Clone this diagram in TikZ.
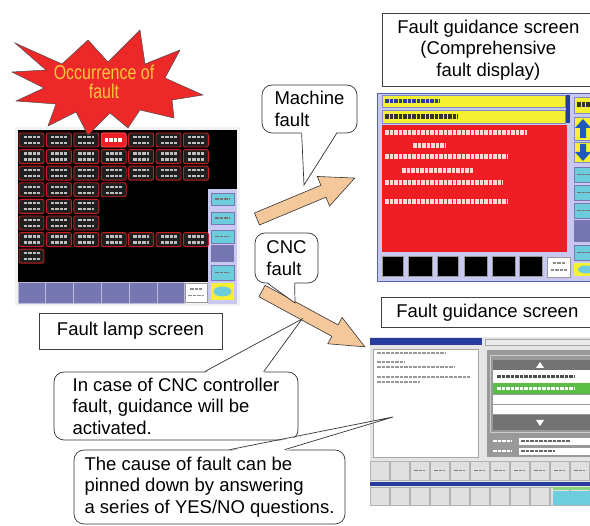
\documentclass[tikz,border=0pt]{standalone}
\usepackage{fontspec}
\setmainfont{Liberation Sans}
\usetikzlibrary{calc}

\definecolor{starred}{RGB}{236,40,40}
\definecolor{startext}{RGB}{250,200,60}
\definecolor{arrowtan}{RGB}{245,200,155}
\definecolor{lampred}{RGB}{200,30,30}
\definecolor{keypurple}{RGB}{118,118,178}
\definecolor{keycyan}{RGB}{110,205,220}
\definecolor{panelblue}{RGB}{200,200,240}
\definecolor{guideyellow}{RGB}{245,240,50}
\definecolor{guidered}{RGB}{238,30,36}
\definecolor{barblue}{RGB}{40,60,160}
\definecolor{arrowblue}{RGB}{30,90,190}
\definecolor{rowgreen}{RGB}{90,190,70}

\tikzset{
  lamp/.style={draw=lampred, line width=0.9pt, fill=black!88, rounded corners=2pt,
    minimum width=25pt, minimum height=14pt, inner sep=0pt},
  glyphs/.style={line width=#1, dash pattern=on 3.5pt off 1pt},
  glyphs/.default=4pt,
  labelbox/.style={draw=black!75, line width=0.7pt, fill=white, inner sep=0pt,
    align=center, font=\fontsize{18.5}{21.5}\selectfont},
  callout/.style={draw=black!80, line width=0.7pt, fill=white, rounded corners=10pt,
    inner sep=0pt, align=left, font=\fontsize{18.5}{21.5}\selectfont},
  tail/.style={draw=black!80, line width=0.7pt, line join=miter},
  fatarrow/.style={draw=black!80, line width=0.6pt, fill=arrowtan},
}

\begin{document}
\begin{tikzpicture}[x=1pt, y=-1pt]
\useasboundingbox (0,0) rectangle (590,526);

% ---------- fault lamp screen ----------
\fill[black!5] (15,127) rectangle (240,306);
\fill[black] (18,130) rectangle (237,282);
\foreach \i in {0,...,5}
  \draw[fill=keypurple, draw=keypurple!50!white, line width=0.8pt] ({18+27.8*\i},282) rectangle ++(27.8,21);
\node[draw=black!40, fill=white, minimum width=22pt, minimum height=19pt, inner sep=0pt] (lampreset) at (196,292.5) {};
\draw[glyphs=1.8pt, black!45] ($(lampreset.center)+(-6,-3.5)$) -- ++(12,0);
\draw[glyphs=1.8pt, black!45] ($(lampreset.center)+(-8,3)$) -- ++(16,0);
\fill[panelblue] (208,189) rectangle (237,304);
\foreach \ya/\yb in {193/205,212/224,230/243,265/280}{
  \draw[fill=keycyan, draw=keypurple] (211,\ya) rectangle (234,\yb);
  \draw[glyphs=1.5pt, black!55] (215,{(\ya+\yb)/2}) -- (230,{(\ya+\yb)/2});
}
\fill[keypurple] (211,245) rectangle (234,262);
\fill[guideyellow] (211,283) rectangle (234,300);
\fill[keycyan] (222.5,291.5) ellipse (9pt and 5pt);

% lamp buttons, row by row
\foreach \n [count=\r from 0] in {7,7,7,4,3,3,7,1}
  \foreach \c in {1,...,\n}{
    \node[lamp] (lamp-\r-\c) at ({31.5+27.4*(\c-1)},{140+16.6*\r}) {};
    \draw[glyphs=2.2pt, black!25] ($(lamp-\r-\c.center)+(-8,-3)$) -- ++(16,0);
    \draw[glyphs=2.2pt, black!25] ($(lamp-\r-\c.center)+(-8,3)$) -- ++(16,0);
  }
\node[lamp, fill=guidered, draw=guidered!80!white] (lampon) at (lamp-0-4) {};
\draw[glyphs=4pt, white] ($(lampon.center)+(-9,0)$) -- ++(18,0);

% ---------- comprehensive guidance screen ----------
\draw[fill=panelblue, draw=barblue!80, line width=0.8pt] (377,93) rectangle (595,281);
\draw[fill=guideyellow, draw=barblue!60] (382,95) rectangle (565,107);
\draw[fill=guideyellow, draw=barblue!60] (382,110) rectangle (565,123);
\fill[barblue] (566,95) rectangle (570,123);
\draw[glyphs=4pt, barblue] (385,101) -- (440,101);
\draw[glyphs=4.5pt, black!80] (385,116.5) -- (458,116.5);
\fill[guidered] (382,125) rectangle (567,252);
\foreach \xa/\xb/\yy in {385/527/133, 413/445/146, 385/507/157, 402/473/171, 385/503/183, 385/508/202}
  \draw[glyphs=5pt, white!85!red] (\xa,\yy) -- (\xb,\yy);
\foreach \xa/\xb in {382/403, 408/432, 437/458, 464/487, 492/515, 519/542}
  \draw[fill=black, draw=black!40, line width=1pt] (\xa,257) rectangle (\xb,277);
\node[draw=black!40, fill=white, minimum width=23pt, minimum height=20pt, inner sep=0pt] (guidereset) at (558.5,267) {};
\draw[glyphs=1.8pt, black!45] ($(guidereset.center)+(-6,-4)$) -- ++(12,0);
\draw[glyphs=1.8pt, black!45] ($(guidereset.center)+(-8,3)$) -- ++(16,0);
% side keys
\draw[fill=guideyellow, draw=barblue!60] (574,97) rectangle (592,113);
\draw[glyphs=5pt, black!80] (577,105) -- (592,105);
\draw[fill=guideyellow, draw=barblue!60] (574,117) rectangle (592,140);
\fill[arrowblue] (583,119) -- (591,128) -- (586,128) -- (586,138) -- (580,138) -- (580,128) -- (575,128) -- cycle;
\draw[fill=guideyellow, draw=barblue!60] (574,142) rectangle (592,162);
\fill[arrowblue] (583,161) -- (591,152) -- (586,152) -- (586,144) -- (580,144) -- (580,152) -- (575,152) -- cycle;
\foreach \ya/\yb in {167/182, 185/200, 203/218, 245/260}{
  \draw[fill=keycyan, draw=keypurple] (574,\ya) rectangle (592,\yb);
  \draw[glyphs=1.5pt, black!55] (577,{(\ya+\yb)/2}) -- (592,{(\ya+\yb)/2});
}
\fill[keypurple] (574,220) rectangle (592,242);
\fill[guideyellow] (574,263) rectangle (592,276);
\fill[keycyan] (586,269.5) ellipse (8pt and 4pt);

% ---------- guidance screen ----------
\fill[black!10] (370,337) rectangle (595,505);
\fill[barblue] (370,338) rectangle (482,345);
\draw[fill=black!8, draw=black!35] (485,339) rectangle (595,345);
\draw[fill=white, draw=black!35] (373,349) rectangle (478,457);
\foreach \xa/\xb/\yy in {377/445/353, 377/405/362, 377/455/367, 377/470/377, 377/420/382}
  \draw[glyphs=1.6pt, black!40] (\xa,\yy) -- (\xb,\yy);
\fill[black!40] (487,350) rectangle (595,457);
\draw[white!80!black] (490,355) rectangle (593,432);
\fill[black!55] (493,360) rectangle (590,370);
\fill[white] (536,368) -- (544,368) -- (540,362) -- cycle;
\fill[white] (493,370) rectangle (590,383);
\draw[glyphs=2.5pt, black!70] (497,376.5) -- (575,376.5);
\fill[rowgreen] (493,383) rectangle (590,394);
\draw[glyphs=2.5pt, white] (497,388.5) -- (575,388.5);
\fill[white] (493,395) rectangle (590,404);
\fill[white] (493,405) rectangle (590,414);
\fill[black!55] (493,415) rectangle (590,430);
\fill[white] (536,420) -- (544,420) -- (540,426) -- cycle;
\draw[glyphs=1.6pt, white] (493,441) -- (512,441);
\draw[glyphs=1.6pt, white] (493,451) -- (512,451);
\draw[fill=white, draw=black!40] (518,437) rectangle (590,445);
\draw[fill=white, draw=black!40] (518,447) rectangle (590,455);
\draw[glyphs=1.6pt, black!60] (521,441) -- (570,441);
\draw[glyphs=1.6pt, black!60] (521,451) -- (555,451);
\foreach \i in {0,...,10}{
  \draw[fill=black!12, draw=black!30] ({370+20*\i},461) rectangle ++(19.5,19);
  \draw[fill=black!12, draw=black!30] ({370+20*\i},487) rectangle ++(19.5,18);
}
\foreach \i in {2,...,10}
  \draw[glyphs=1.6pt, black!50] ({374+20*\i},470.5) -- ++(11,0);
\fill[barblue] (370,482) rectangle (595,486);
\fill[keycyan] (553,491) rectangle (595,505);
\fill[rowgreen!70!white] (553,487) rectangle (595,490);

% ---------- occurrence burst ----------
\draw[fill=starred, draw=black!70, line width=0.5pt]
  (15,43) -- (62,64) -- (88,40) -- (108,62) -- (140,30) -- (145,64)
  -- (180,50) -- (165,78) -- (203,95) -- (172,100) -- (174,118)
  -- (140,110) -- (128,128) -- (110,113) -- (88,135) -- (76,112)
  -- (48,126) -- (56,104) -- (16,101) -- (44,88) -- (12,72) -- (46,70) -- cycle;
\node[font=\fontsize{20}{19.5}\selectfont, text=startext, align=center,
  xscale=0.8, transform shape] (occur) at (104,82) {Occurrence of\\fault};

% ---------- fault arrows ----------
\coordinate (machtail) at (257,219);
\coordinate (cnctail) at (262,291);
\begin{scope}[shift={(machtail)}, rotate=22.7]
  \draw[fatarrow] (0,-6.5) -- (72,-6.5) -- (72,-16) -- (106,0) -- (72,16) -- (72,6.5) -- (0,6.5) -- cycle;
\end{scope}
\begin{scope}[shift={(cnctail)}, rotate=-28.5]
  \draw[fatarrow] (0,-6.5) -- (83,-6.5) -- (83,-15) -- (117,0) -- (83,15) -- (83,6.5) -- (0,6.5) -- cycle;
\end{scope}

% ---------- screen labels ----------
\node[labelbox, minimum width=183pt, minimum height=36pt] (lamplabel) at (130.5,331) {Fault lamp screen};
\node[labelbox, minimum width=212pt, minimum height=73pt, anchor=north west] (guidelabel) at (382,13)
  {Fault guidance screen\\(Comprehensive\\fault display)};
\node[labelbox, minimum width=212pt, minimum height=30pt, anchor=north west] (cnclabel) at (381,297)
  {Fault guidance screen};

% ---------- callouts ----------
\coordinate (machtip) at (304,185);
\coordinate (cnctip) at (295,303);
\coordinate (notetip) at (302,319);
\coordinate (causetip) at (393,417);

\node[callout, minimum width=95pt, minimum height=48pt] (machnote) at (309.5,109) {Machine\\fault};
\fill[white] ($(machnote.south west)+(40,-1.5)$) -- (machtip) -- ($(machnote.south west)+(75,-1.5)$) -- cycle;
\draw[tail] ($(machnote.south west)+(40,0)$) -- (machtip) -- ($(machnote.south west)+(75,0)$);

\node[callout, minimum width=63pt, minimum height=50pt] (cncnote) at (286.5,258) {CNC\\fault};
\fill[white] ($(cncnote.south west)+(13,-1.5)$) -- (cnctip) -- ($(cncnote.south west)+(40,-1.5)$) -- cycle;
\draw[tail] ($(cncnote.south west)+(13,0)$) -- (cnctip) -- ($(cncnote.south west)+(40,0)$);

\node[callout, minimum width=244pt, minimum height=68pt] (guidenote) at (176,406)
  {In case of CNC controller\\fault, guidance will be\\activated.};
\fill[white] ($(guidenote.north west)+(151,1.5)$) -- (notetip) -- ($(guidenote.north west)+(210,1.5)$) -- cycle;
\draw[tail] ($(guidenote.north west)+(151,0)$) -- (notetip) -- ($(guidenote.north west)+(210,0)$);

\node[callout, minimum width=271pt, minimum height=74pt] (causenote) at (209.5,487)
  {The cause of fault can be\\pinned down by answering\\a series of YES/NO questions.};
\fill[white] ($(causenote.north west)+(156,1.5)$) -- (causetip) -- ($(causenote.north west)+(211,1.5)$) -- cycle;
\draw[tail] ($(causenote.north west)+(156,0)$) -- (causetip) -- ($(causenote.north west)+(211,0)$);
\end{tikzpicture}
\end{document}
